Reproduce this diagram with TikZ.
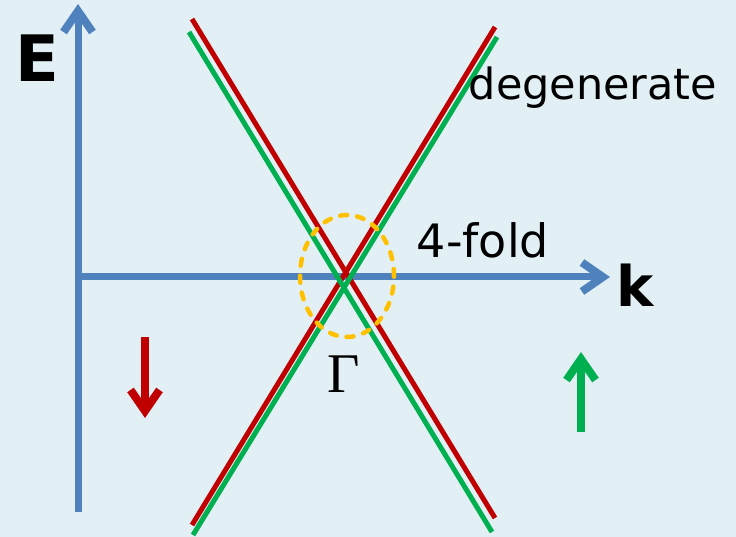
\documentclass[tikz,border=0pt]{standalone}
\usepackage{fontspec}
\setmainfont{DejaVu Sans}
\newfontfamily\gammafont{Liberation Serif}
\usetikzlibrary{arrows.meta,positioning,shapes.geometric}
\definecolor{bgblue}{RGB}{226,240,245}
\definecolor{axisblue}{RGB}{79,129,189}
\definecolor{bandred}{RGB}{192,0,0}
\definecolor{bandgreen}{RGB}{0,176,80}
\definecolor{ringgold}{RGB}{255,192,0}

\begin{document}
\begin{tikzpicture}[
x=1pt,y=-1pt,
axis/.style={draw=axisblue,line width=7pt,-{Straight Barb[length=21pt,width=29pt,line width=8pt]}},
band/.style={line width=5pt},
spin/.style={line width=8pt,-{Straight Barb[length=21pt,width=29pt,line width=8pt]}},
lbl/.style={inner sep=0pt,font=\fontsize{43}{43}\selectfont}
]
\fill[bgblue] (0,0) rectangle (736,537);
\useasboundingbox (0,0) rectangle (736,537);

% axes
\coordinate (orig) at (78,512);
\coordinate (etop) at (78,4);
\coordinate (kleft) at (76,277);
\coordinate (kright) at (610,277);
\draw[axis] (orig)--(etop);
\draw[axis] (kleft)--(kright);

% bands
\coordinate (ra1) at (192,19);  \coordinate (ra2) at (495,518);
\coordinate (rb1) at (192,525); \coordinate (rb2) at (495,27);
\coordinate (ga1) at (189,32);  \coordinate (ga2) at (492,532);
\coordinate (gb1) at (193,535); \coordinate (gb2) at (497,37);
\draw[band,bandred] (ra1)--(ra2); \draw[band,bandred] (rb1)--(rb2);
\draw[band,bandgreen] (ga1)--(ga2); \draw[band,bandgreen] (gb1)--(gb2);

% degeneracy ring
\node[draw=ringgold,line width=4.5pt,line cap=round,dash pattern=on 7pt off 10pt,ellipse,
  minimum width=94pt,minimum height=122pt,inner sep=0pt] (ring) at (347,276) {};

% spins
\coordinate (dntop) at (145,337); \coordinate (dnbot) at (145,418);
\coordinate (upbot) at (581,432); \coordinate (uptop) at (581,352);
\draw[spin,bandred] (dntop)--(dnbot);
\draw[spin,bandgreen] (upbot)--(uptop);

% labels
\node[lbl,font=\fontsize{64}{64}\selectfont\bfseries] (elabel) at (37,58) {E};
\node[lbl,font=\fontsize{56}{56}\selectfont\bfseries] (klabel) at (635,285) {k};
\node[lbl] (deglabel) at (593,88) {degenerate};
\node[lbl,font=\fontsize{46}{46}\selectfont] (foldlabel) at (483,240) {4-fold};
\node[lbl,font=\fontsize{56}{56}\selectfont\gammafont] (gammalabel) at (344,374) {Γ};
\end{tikzpicture}
\end{document}
